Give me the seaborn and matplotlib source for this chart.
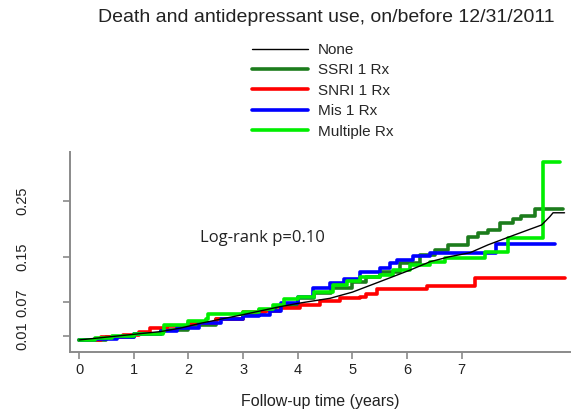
import numpy as np
import pandas as pd
import matplotlib
matplotlib.use("Agg")
import matplotlib.pyplot as plt
from matplotlib.lines import Line2D
import seaborn as sns

title = "Death and antidepressant use, on/before 12/31/2011"
x_label = "Follow-up time (years)"
annotation = "Log-rank p=0.10"
x_ticks = [0, 1, 2, 3, 4, 5, 6, 7]
y_ticks = [0.01, 0.07, 0.15, 0.25]
y_tick_labels = ["0.01", "0.07", "0.15", "0.25"]
series_names = ["None", "SSRI 1 Rx", "SNRI 1 Rx", "Mis 1 Rx", "Multiple Rx"]

none_t = [0, 0.5, 1.0, 1.5, 1.85, 2.24, 3.0, 3.67, 4.0, 4.59, 5.0, 5.5, 6.05, 6.42,
          6.78, 7.15, 7.48, 7.85, 8.21, 8.46, 8.61, 8.67, 8.88]
none_v = [0.003, 0.008, 0.013, 0.018, 0.024, 0.033, 0.048, 0.062, 0.068, 0.077, 0.088,
          0.1065, 0.127, 0.142, 0.151, 0.158, 0.172, 0.1855, 0.1984, 0.2073, 0.222, 0.229, 0.229]

ssri_t = [0, 0.5, 1.0, 1.5, 2.0, 2.5, 3.0, 3.3, 3.6, 4.0, 4.3, 4.6, 5.0, 5.25, 5.5, 5.87,
          6.23, 6.51, 6.75, 7.12, 7.3, 7.48, 7.70, 7.94, 8.09, 8.34, 8.85]
ssri_v = [0.003, 0.009, 0.013, 0.020, 0.030, 0.040, 0.050, 0.056, 0.064, 0.078, 0.086,
          0.095, 0.106, 0.115, 0.124, 0.139, 0.154, 0.163, 0.172, 0.1855, 0.1926, 0.1984,
          0.2114, 0.2174, 0.2233, 0.2353, 0.2353]

snri_t = [0, 0.4, 0.8, 1.1, 1.3, 1.6, 2.0, 2.5, 3.0, 3.4, 3.67, 4.04, 4.41, 4.77, 5.14,
          5.25, 5.45, 6.36, 7.24, 8.88]
snri_v = [0.003, 0.008, 0.012, 0.018, 0.024, 0.028, 0.033, 0.040, 0.052, 0.055, 0.060,
          0.066, 0.072, 0.077, 0.080, 0.085, 0.093, 0.099, 0.113, 0.113]

mis_t = [0, 0.3, 0.7, 1.0, 1.5, 1.8, 2.2, 2.6, 3.0, 3.3, 3.5, 3.7, 4.0, 4.28, 4.59, 4.85,
         5.14, 5.5, 5.69, 5.81, 6.11, 6.42, 7.63, 8.70]
mis_v = [0.003, 0.004, 0.009, 0.013, 0.019, 0.024, 0.033, 0.040, 0.046, 0.048, 0.055,
         0.068, 0.080, 0.095, 0.104, 0.112, 0.124, 0.130, 0.139, 0.145, 0.152, 0.158,
         0.174, 0.174]

mult_t = [0, 0.3, 0.6, 1.0, 1.54, 1.56, 2.0, 2.33, 2.35, 3.0, 3.3, 3.55, 3.75, 4.0, 4.3,
          4.65, 4.9, 5.14, 5.5, 5.75, 6.05, 6.42, 6.69, 7.42, 7.85, 8.49, 8.79]
mult_v = [0.003, 0.006, 0.010, 0.014, 0.018, 0.030, 0.036, 0.040, 0.050, 0.053, 0.058,
          0.066, 0.075, 0.080, 0.088, 0.100, 0.108, 0.115, 0.118, 0.127, 0.136, 0.142,
          0.148, 0.160, 0.1837, 0.32, 0.32]

colors = ["#000000", "#1c7c1c", "#ff0000", "#0000ff", "#00ee00"]
widths = [1.0, 2.6, 2.6, 2.6, 2.6]

sns.set_theme(style="white")
plt.rcParams["font.family"] = ["Liberation Sans", "DejaVu Sans"]

fig = plt.figure(figsize=(5.86, 4.13), dpi=100)
ax = fig.add_axes([70 / 586, 1 - 352 / 413, 500 / 586, 200 / 413])

data = [(none_t, none_v), (ssri_t, ssri_v), (snri_t, snri_v), (mis_t, mis_v), (mult_t, mult_v)]
zorders = [6, 2, 3, 4, 5]
for (t, v), name, c, lw, z in zip(data, series_names, colors, widths, zorders):
    df = pd.DataFrame({"t": t, "v": v})
    if name == "None":
        sns.lineplot(data=df, x="t", y="v", color=c, lw=lw, ax=ax, zorder=z,
                     estimator=None)
    else:
        sns.lineplot(data=df, x="t", y="v", color=c, lw=lw, ax=ax, zorder=z,
                     drawstyle="steps-post", estimator=None)

ax.set_xlim(-0.165, 8.98)
ax.set_ylim(-0.0184, 0.337)
ax.set_xticks(x_ticks)
ax.set_xticklabels([str(v) for v in x_ticks])
ax.set_yticks(y_ticks)
ax.set_yticklabels(y_tick_labels, rotation=90, va="center")
ax.set_xlabel(x_label, fontsize=11.5, color="#222222", labelpad=12)
ax.set_ylabel("")

for s in ["top", "right"]:
    ax.spines[s].set_visible(False)
for s in ["left", "bottom"]:
    ax.spines[s].set_color("#8a8a8a")
    ax.spines[s].set_linewidth(1.4)
ax.tick_params(axis="x", length=5, width=1.2, color="#8a8a8a", labelsize=10.5,
               labelcolor="#222222", pad=3, bottom=True)
ax.tick_params(axis="y", length=5, width=1.2, color="#8a8a8a", labelsize=10.5,
               labelcolor="#222222", pad=24, left=True)

ax.text(2.21, 0.184, annotation, fontsize=12, va="center", ha="left", color="#222222",
        family=["Open Sans", "DejaVu Sans"])

fig.text(326 / 586, 1 - 17 / 413, title, ha="center", va="center", fontsize=14.0,
         color="#222222")

handles = [Line2D([0], [0], color=c, lw=(1.0 if i == 0 else 2.6))
           for i, c in enumerate(colors)]
fig.legend(handles, series_names, loc="upper left",
           bbox_to_anchor=(252 / 586, 1 - 43 / 413), frameon=False, fontsize=11,
           handlelength=3.66, handletextpad=0.65, labelspacing=0.42,
           borderpad=0, borderaxespad=0)

fig.savefig("out.png", dpi=100)
